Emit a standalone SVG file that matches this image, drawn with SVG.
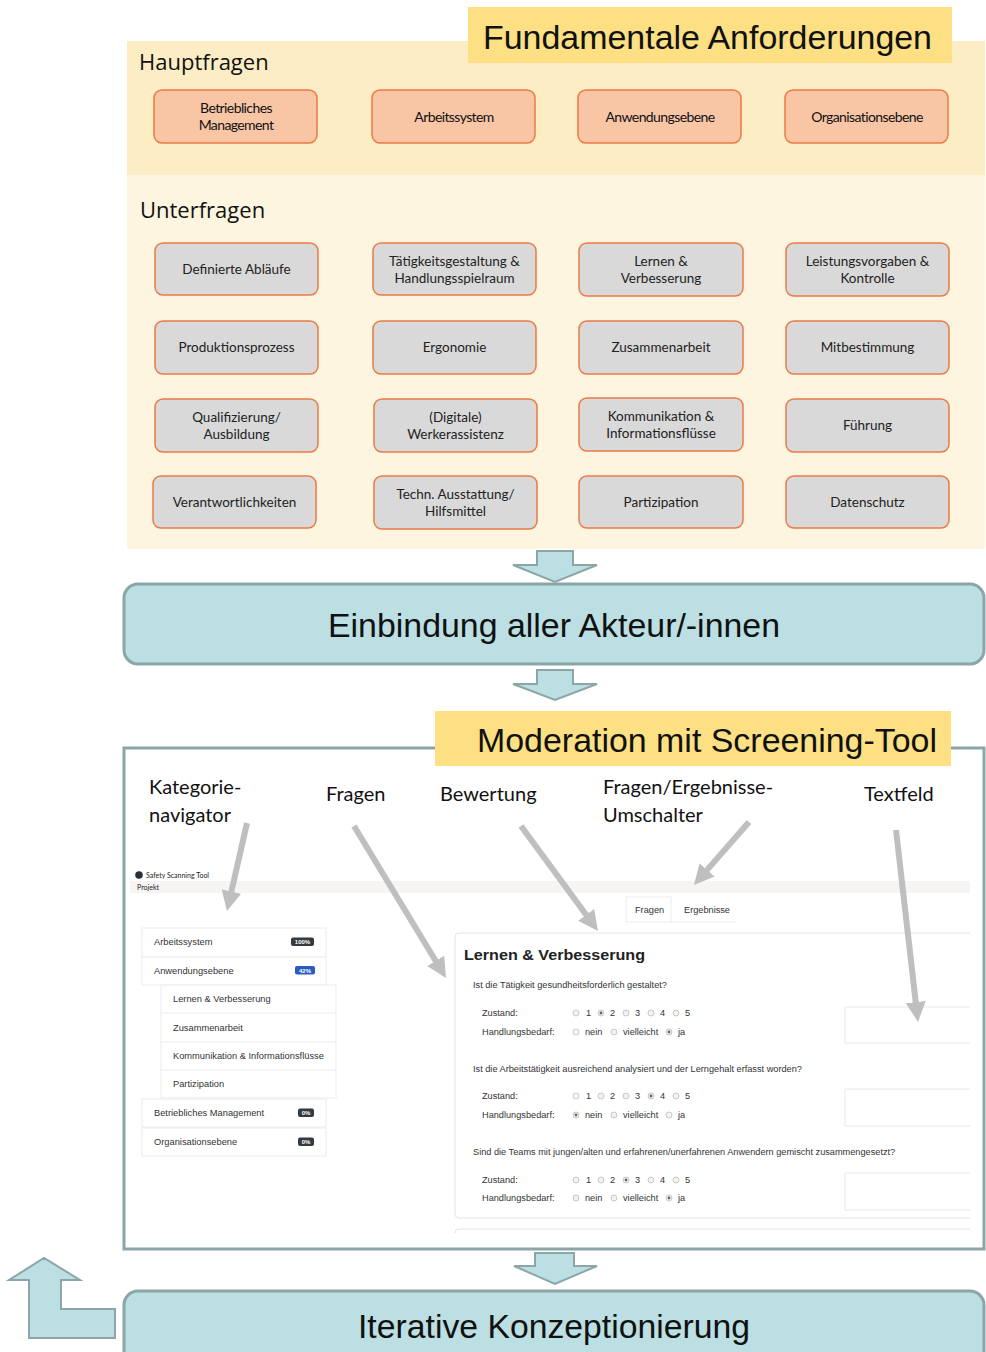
<svg xmlns="http://www.w3.org/2000/svg" width="986" height="1352" viewBox="0 0 986 1352">
<defs>
<style>
.title{font-family:"Liberation Sans",Arial,sans-serif;font-size:34px;fill:#111}
.sec{font-family:"Open Sans","Noto Sans",sans-serif;font-size:22px;fill:#111}
.hb{fill:#F8C5A5;stroke:#EC7A45;stroke-width:1.5}
.ub{fill:#D9D9D9;stroke:#EC7A45;stroke-width:1.5}
.bt{font-family:"Lato","Noto Sans",sans-serif;font-size:13.5px;fill:#222;text-anchor:middle}
.ht{font-family:"Lato","Noto Sans",sans-serif;font-size:14px;fill:#111;text-anchor:middle;letter-spacing:-0.6px}
.teal{fill:#BBDFE2;stroke:#8CA6A8;stroke-width:3}
.barrow{fill:#BBDFE2;stroke:#8CA6A8;stroke-width:2;stroke-linejoin:miter}
.lbl{font-family:"Lato","Noto Sans",sans-serif;font-size:20px;fill:#111}
.ptr{stroke:#BFBFBF;stroke-width:6;fill:none}
.s{font-family:"Liberation Sans",Arial,sans-serif;font-size:9.2px;fill:#333}
.nav{font-family:"Liberation Sans",Arial,sans-serif;font-size:9.3px;fill:#333}
.navbox{fill:#fff;stroke:#ececec;stroke-width:1}
.badge{font-family:"Liberation Sans",Arial,sans-serif;font-size:6px;font-weight:bold;fill:#fff;text-anchor:middle}
.r{fill:#f2f2f2;stroke:#bdbdbd;stroke-width:0.8}
.rc{fill:#666}
.tf{fill:#fff;stroke:#e8e8e8;stroke-width:1}
</style>
<marker id="ah" viewBox="0 0 20 20" markerWidth="20" markerHeight="20" refX="4" refY="10" orient="auto" markerUnits="userSpaceOnUse">
<path d="M0,0 L20,10 L0,20 Z" fill="#BFBFBF"/>
</marker>
</defs>

<!-- Fundamentale Anforderungen panel -->
<g id="panel-fundamental">
<rect x="127" y="41" width="858" height="134" fill="#FCEDC4"/>
<rect x="127" y="175" width="858" height="374" fill="#FDF5DF"/>
<rect x="468" y="7" width="484" height="56" fill="#FCE083"/>
<text class="title" x="483" y="49" textLength="449" lengthAdjust="spacingAndGlyphs">Fundamentale Anforderungen</text>
<text class="sec" x="139" y="70">Hauptfragen</text>
<text class="sec" x="140" y="218">Unterfragen</text>
</g>

<g id="h1"><rect class="hb" x="154" y="90" width="163" height="53" rx="8"/><text class="ht" x="236" y="113">Betriebliches</text><text class="ht" x="236" y="130">Management</text></g>
<g id="h2"><rect class="hb" x="372" y="90" width="163" height="53" rx="8"/><text class="ht" x="454" y="122">Arbeitssystem</text></g>
<g id="h3"><rect class="hb" x="578" y="90" width="163" height="53" rx="8"/><text class="ht" x="660" y="122">Anwendungsebene</text></g>
<g id="h4"><rect class="hb" x="785" y="90" width="163" height="53" rx="8"/><text class="ht" x="867" y="122">Organisationsebene</text></g>

<g id="u11"><rect class="ub" x="155" y="243" width="163" height="52" rx="8"/><text class="bt" x="236.5" y="274">Definierte Abläufe</text></g>
<g id="u12"><rect class="ub" x="373" y="243" width="163" height="52" rx="8"/><text class="bt" x="454.5" y="266">Tätigkeitsgestaltung &amp;</text><text class="bt" x="454.5" y="283">Handlungsspielraum</text></g>
<g id="u13"><rect class="ub" x="579" y="243" width="164" height="53" rx="8"/><text class="bt" x="661" y="266">Lernen &amp;</text><text class="bt" x="661" y="283">Verbesserung</text></g>
<g id="u14"><rect class="ub" x="786" y="243" width="163" height="53" rx="8"/><text class="bt" x="867.5" y="266">Leistungsvorgaben &amp;</text><text class="bt" x="867.5" y="283">Kontrolle</text></g>

<g id="u21"><rect class="ub" x="155" y="321" width="163" height="53" rx="8"/><text class="bt" x="236.5" y="352">Produktionsprozess</text></g>
<g id="u22"><rect class="ub" x="373" y="321" width="163" height="53" rx="8"/><text class="bt" x="454.5" y="352">Ergonomie</text></g>
<g id="u23"><rect class="ub" x="579" y="321" width="164" height="53" rx="8"/><text class="bt" x="661" y="352">Zusammenarbeit</text></g>
<g id="u24"><rect class="ub" x="786" y="321" width="163" height="53" rx="8"/><text class="bt" x="867.5" y="352">Mitbestimmung</text></g>

<g id="u31"><rect class="ub" x="155" y="399" width="163" height="53" rx="8"/><text class="bt" x="236.5" y="422">Qualifizierung/</text><text class="bt" x="236.5" y="439">Ausbildung</text></g>
<g id="u32"><rect class="ub" x="374" y="399" width="163" height="53" rx="8"/><text class="bt" x="455.5" y="422">(Digitale)</text><text class="bt" x="455.5" y="439">Werkerassistenz</text></g>
<g id="u33"><rect class="ub" x="579" y="398" width="164" height="53" rx="8"/><text class="bt" x="661" y="421">Kommunikation &amp;</text><text class="bt" x="661" y="438">Informationsflüsse</text></g>
<g id="u34"><rect class="ub" x="786" y="399" width="163" height="53" rx="8"/><text class="bt" x="867.5" y="430">Führung</text></g>

<g id="u41"><rect class="ub" x="153" y="476" width="163" height="52" rx="8"/><text class="bt" x="234.5" y="507">Verantwortlichkeiten</text></g>
<g id="u42"><rect class="ub" x="374" y="476" width="163" height="53" rx="8"/><text class="bt" x="455.5" y="499">Techn. Ausstattung/</text><text class="bt" x="455.5" y="516">Hilfsmittel</text></g>
<g id="u43"><rect class="ub" x="579" y="476" width="164" height="52" rx="8"/><text class="bt" x="661" y="507">Partizipation</text></g>
<g id="u44"><rect class="ub" x="786" y="476" width="163" height="52" rx="8"/><text class="bt" x="867.5" y="507">Datenschutz</text></g>

<g id="einbindung">
<rect class="teal" x="124" y="584" width="860" height="80" rx="14"/>
<text class="title" x="554" y="637" text-anchor="middle" font-size="35" textLength="452" lengthAdjust="spacingAndGlyphs">Einbindung aller Akteur/-innen</text>
</g>

<g id="moderation">
<rect x="124" y="748" width="860" height="501" fill="#fff" stroke="#8CA6A8" stroke-width="3"/>
<rect x="435" y="711" width="516" height="55" fill="#FCE083"/>
<text class="title" x="477" y="752" textLength="460" lengthAdjust="spacingAndGlyphs">Moderation mit Screening-Tool</text>
<text class="lbl" x="149" y="794">Kategorie-</text>
<text class="lbl" x="149" y="822">navigator</text>
<text class="lbl" x="326" y="801">Fragen</text>
<text class="lbl" x="440" y="801">Bewertung</text>
<text class="lbl" x="603" y="794">Fragen/Ergebnisse-</text>
<text class="lbl" x="603" y="822">Umschalter</text>
<text class="lbl" x="864" y="801">Textfeld</text>
</g>

<g id="screenshot">
<rect x="130" y="881" width="840" height="12" fill="#F7F4F4"/>
<circle cx="139" cy="875" r="3.8" fill="#2a2f3a"/>
<text x="146" y="878" font-family="Lato,sans-serif" font-size="7" fill="#222">Safety Scanning Tool</text>
<text x="137" y="890" font-family="Lato,sans-serif" font-size="7" fill="#222">Projekt</text>

<g id="nav">
<rect class="navbox" x="142" y="928" width="184" height="29"/>
<text class="nav" x="154" y="945">Arbeitssystem</text>
<rect x="291" y="937.5" width="23" height="8.5" rx="2" fill="#343a40"/><text class="badge" x="302.5" y="944">100%</text>
<rect class="navbox" x="142" y="957" width="184" height="28"/>
<text class="nav" x="154" y="974">Anwendungsebene</text>
<rect x="295" y="966" width="20" height="8.5" rx="2" fill="#2a5bc4"/><text class="badge" x="305" y="972.5">42%</text>
<rect class="navbox" x="161" y="985" width="175" height="113"/>
<line x1="161" y1="1013" x2="336" y2="1013" stroke="#ececec"/>
<line x1="161" y1="1042" x2="336" y2="1042" stroke="#ececec"/>
<line x1="161" y1="1070" x2="336" y2="1070" stroke="#ececec"/>
<text class="nav" x="173" y="1002">Lernen &amp; Verbesserung</text>
<text class="nav" x="173" y="1031">Zusammenarbeit</text>
<text class="nav" x="173" y="1059">Kommunikation &amp; Informationsflüsse</text>
<text class="nav" x="173" y="1087">Partizipation</text>
<rect class="navbox" x="142" y="1099" width="184" height="28"/>
<text class="nav" x="154" y="1116">Betriebliches Management</text>
<rect x="298" y="1108.5" width="16" height="8.5" rx="2" fill="#343a40"/><text class="badge" x="306" y="1115">0%</text>
<rect class="navbox" x="142" y="1128" width="184" height="28"/>
<text class="nav" x="154" y="1145">Organisationsebene</text>
<rect x="298" y="1137.5" width="16" height="8.5" rx="2" fill="#343a40"/><text class="badge" x="306" y="1144">0%</text>
</g>

<g id="tabs">
<rect x="626" y="897" width="45" height="25" fill="#fff" stroke="#eeeeee"/>
<line x1="671" y1="922" x2="736" y2="922" stroke="#eeeeee"/>
<text class="s" x="635" y="913">Fragen</text>
<text class="s" x="684" y="913">Ergebnisse</text>
</g>

<g id="card">
<path d="M970,933 L459,933 Q455,933 455,937 L455,1214 Q455,1218 459,1218 L970,1218" fill="#fff" stroke="#e4e4e4"/>
<path d="M970,1229 L459,1229 Q455,1229 455,1233" fill="none" stroke="#e4e4e4"/>
<text x="464" y="960" font-family="Liberation Sans,Arial,sans-serif" font-size="15.5" font-weight="bold" fill="#222" textLength="181" lengthAdjust="spacingAndGlyphs">Lernen &amp; Verbesserung</text>

<text class="s" x="473" y="988">Ist die Tätigkeit gesundheitsforderlich gestaltet?</text>
<text class="s" x="482" y="1016">Zustand:</text>
<text class="s" x="482" y="1035">Handlungsbedarf:</text>
<g>
<circle class="r" cx="576" cy="1013" r="3"/><text class="s" x="586" y="1016">1</text>
<circle class="r" cx="601" cy="1013" r="3"/><circle class="rc" cx="601" cy="1013" r="1.4"/><text class="s" x="610" y="1016">2</text>
<circle class="r" cx="626" cy="1013" r="3"/><text class="s" x="635" y="1016">3</text>
<circle class="r" cx="651" cy="1013" r="3"/><text class="s" x="660" y="1016">4</text>
<circle class="r" cx="676" cy="1013" r="3"/><text class="s" x="685" y="1016">5</text>
<circle class="r" cx="576" cy="1032" r="3"/><text class="s" x="585" y="1035">nein</text>
<circle class="r" cx="614" cy="1032" r="3"/><text class="s" x="623" y="1035">vielleicht</text>
<circle class="r" cx="669" cy="1032" r="3"/><circle class="rc" cx="669" cy="1032" r="1.4"/><text class="s" x="678" y="1035">ja</text>
</g>
<path class="tf" d="M970,1007 L845,1007 L845,1043 L970,1043"/>

<text class="s" x="473" y="1072">Ist die Arbeitstätigkeit ausreichend analysiert und der Lerngehalt erfasst worden?</text>
<text class="s" x="482" y="1099">Zustand:</text>
<text class="s" x="482" y="1118">Handlungsbedarf:</text>
<g>
<circle class="r" cx="576" cy="1096" r="3"/><text class="s" x="586" y="1099">1</text>
<circle class="r" cx="601" cy="1096" r="3"/><text class="s" x="610" y="1099">2</text>
<circle class="r" cx="626" cy="1096" r="3"/><text class="s" x="635" y="1099">3</text>
<circle class="r" cx="651" cy="1096" r="3"/><circle class="rc" cx="651" cy="1096" r="1.4"/><text class="s" x="660" y="1099">4</text>
<circle class="r" cx="676" cy="1096" r="3"/><text class="s" x="685" y="1099">5</text>
<circle class="r" cx="576" cy="1115" r="3"/><circle class="rc" cx="576" cy="1115" r="1.4"/><text class="s" x="585" y="1118">nein</text>
<circle class="r" cx="614" cy="1115" r="3"/><text class="s" x="623" y="1118">vielleicht</text>
<circle class="r" cx="669" cy="1115" r="3"/><text class="s" x="678" y="1118">ja</text>
</g>
<path class="tf" d="M970,1089 L845,1089 L845,1126 L970,1126"/>

<text class="s" x="473" y="1155">Sind die Teams mit jungen/alten und erfahrenen/unerfahrenen Anwendern gemischt zusammengesetzt?</text>
<text class="s" x="482" y="1183">Zustand:</text>
<text class="s" x="482" y="1201">Handlungsbedarf:</text>
<g>
<circle class="r" cx="576" cy="1180" r="3"/><text class="s" x="586" y="1183">1</text>
<circle class="r" cx="601" cy="1180" r="3"/><text class="s" x="610" y="1183">2</text>
<circle class="r" cx="626" cy="1180" r="3"/><circle class="rc" cx="626" cy="1180" r="1.4"/><text class="s" x="635" y="1183">3</text>
<circle class="r" cx="651" cy="1180" r="3"/><text class="s" x="660" y="1183">4</text>
<circle class="r" cx="676" cy="1180" r="3"/><text class="s" x="685" y="1183">5</text>
<circle class="r" cx="576" cy="1198" r="3"/><text class="s" x="585" y="1201">nein</text>
<circle class="r" cx="614" cy="1198" r="3"/><text class="s" x="623" y="1201">vielleicht</text>
<circle class="r" cx="669" cy="1198" r="3"/><circle class="rc" cx="669" cy="1198" r="1.4"/><text class="s" x="678" y="1201">ja</text>
</g>
<path class="tf" d="M970,1173 L845,1173 L845,1210 L970,1210"/>
</g>
</g>

<g id="iterative">
<rect class="teal" x="124" y="1291" width="860" height="80" rx="14"/>
<text class="title" x="554" y="1338" text-anchor="middle" font-size="35" textLength="392" lengthAdjust="spacingAndGlyphs">Iterative Konzeptionierung</text>
</g>

<g id="connectors">
<path class="barrow" d="M537,551 L573,551 L573,565 L597,565 L555,582 L513,565 L537,565 Z"/>
<path class="barrow" d="M537,670 L573,670 L573,684 L597,684 L555,700 L513,684 L537,684 Z"/>
<path class="barrow" d="M535,1253 L574,1253 L574,1266 L597,1266 L555,1284 L514,1266 L535,1266 Z"/>
<path class="barrow" d="M115,1309 L61,1309 L61,1280 L80,1280 L44,1258 L9,1280 L29,1280 L29,1338 L115,1338 Z"/>
<line class="ptr" x1="247" y1="823" x2="230.5" y2="895.4" marker-end="url(#ah)"/>
<line class="ptr" x1="354" y1="826" x2="437.7" y2="964.3" marker-end="url(#ah)"/>
<line class="ptr" x1="521" y1="826" x2="588.5" y2="918.1" marker-end="url(#ah)"/>
<line class="ptr" x1="749" y1="822" x2="704.5" y2="872.9" marker-end="url(#ah)"/>
<line class="ptr" x1="896" y1="830" x2="916.2" y2="1006.1" marker-end="url(#ah)"/>
</g>
</svg>
